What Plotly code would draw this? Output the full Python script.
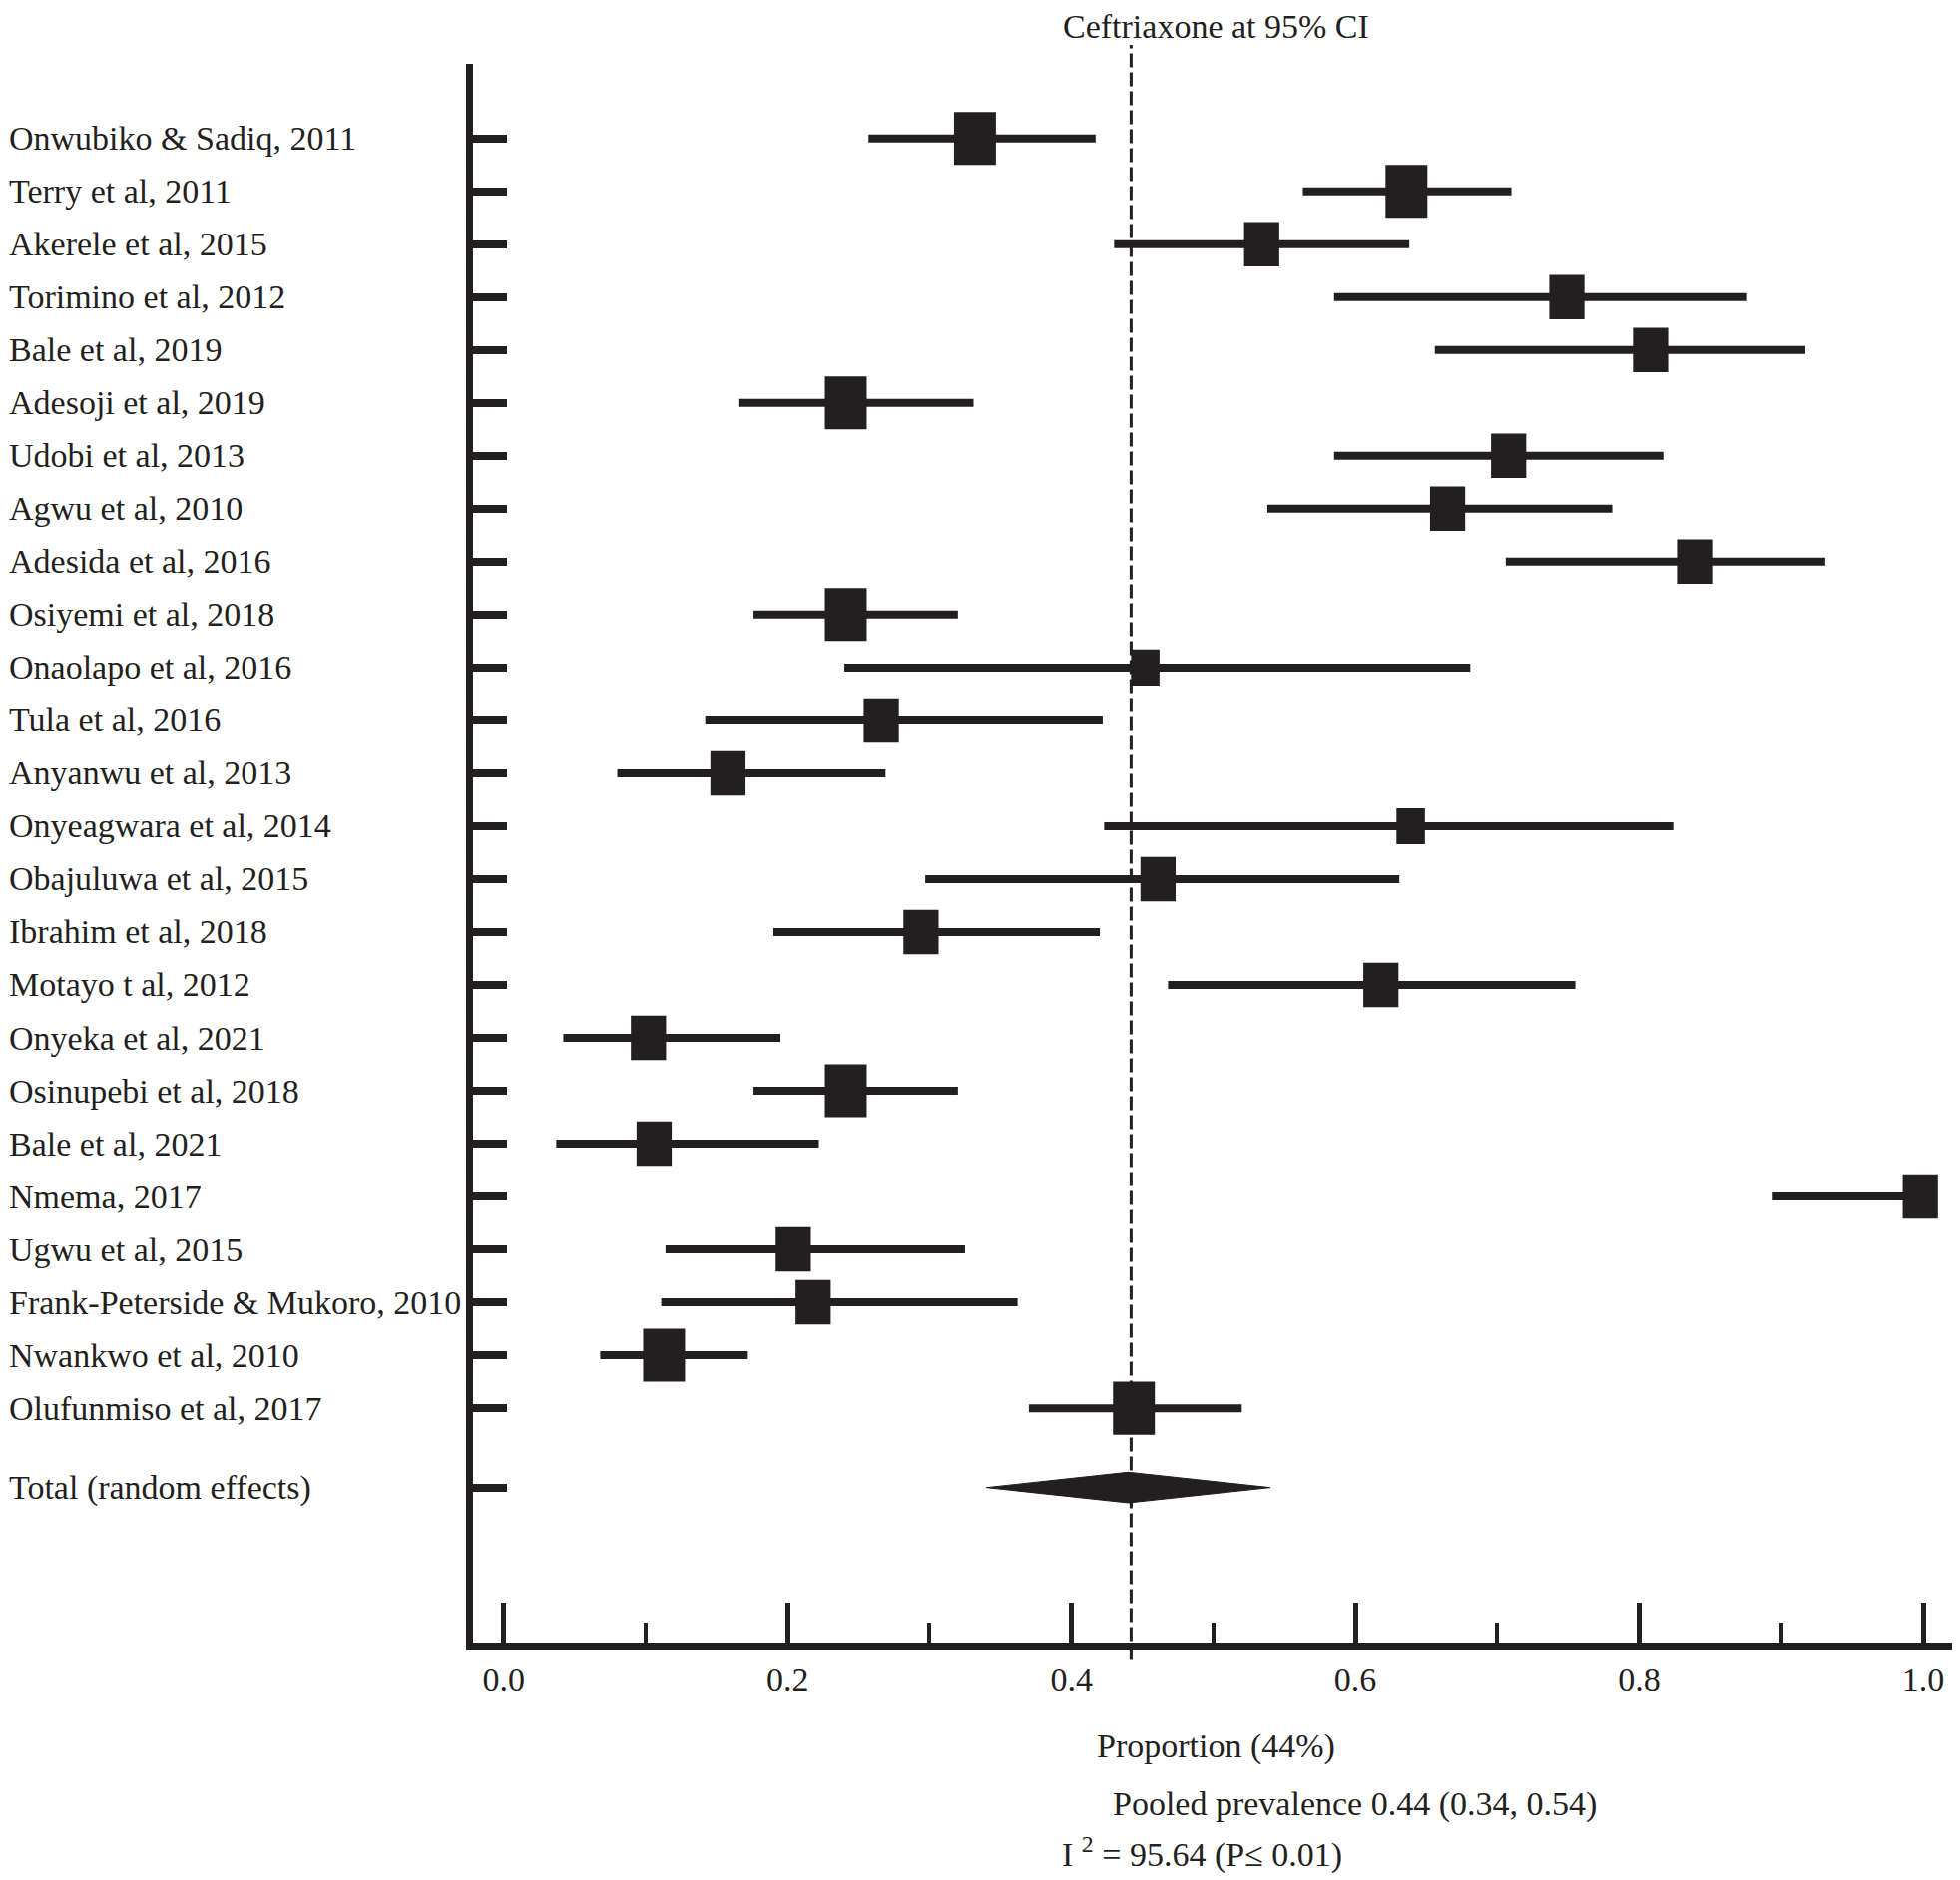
import plotly.graph_objects as go

# ---------------- data ----------------
studies = [
    "Onwubiko & Sadiq, 2011", "Terry et al, 2011", "Akerele et al, 2015",
    "Torimino et al, 2012", "Bale et al, 2019", "Adesoji et al, 2019",
    "Udobi et al, 2013", "Agwu et al, 2010", "Adesida et al, 2016",
    "Osiyemi et al, 2018", "Onaolapo et al, 2016", "Tula et al, 2016",
    "Anyanwu et al, 2013", "Onyeagwara et al, 2014", "Obajuluwa et al, 2015",
    "Ibrahim et al, 2018", "Motayo t al, 2012", "Onyeka et al, 2021",
    "Osinupebi et al, 2018", "Bale et al, 2021", "Nmema, 2017",
    "Ugwu et al, 2015", "Frank-Peterside & Mukoro, 2010", "Nwankwo et al, 2010",
    "Olufunmiso et al, 2017",
]
estimate = [0.332, 0.636, 0.534, 0.749, 0.808, 0.241, 0.708, 0.665, 0.839,
            0.241, 0.452, 0.266, 0.158, 0.639, 0.461, 0.294, 0.618, 0.102,
            0.241, 0.106, 0.998, 0.204, 0.218, 0.113, 0.444]
ci_low = [0.257, 0.563, 0.430, 0.585, 0.656, 0.166, 0.585, 0.538, 0.706,
          0.176, 0.240, 0.142, 0.080, 0.423, 0.297, 0.190, 0.468, 0.042,
          0.176, 0.037, 0.894, 0.114, 0.111, 0.068, 0.370]
ci_high = [0.417, 0.710, 0.638, 0.876, 0.917, 0.331, 0.817, 0.781, 0.931,
           0.320, 0.681, 0.422, 0.269, 0.824, 0.631, 0.420, 0.755, 0.195,
           0.320, 0.222, 1.000, 0.325, 0.362, 0.172, 0.520]
rel_weight = [1.0, 1.0, 0.84, 0.84, 0.84, 1.0, 0.84, 0.84, 0.84,
              1.0, 0.68, 0.84, 0.84, 0.68, 0.84, 0.84, 0.84, 0.84,
              1.0, 0.84, 0.84, 0.84, 0.84, 1.0, 1.0]
pooled_label = "Total (random effects)"
pooled_est = 0.44
pooled_low = 0.34
pooled_high = 0.54
x_ticks = [0.0, 0.2, 0.4, 0.6, 0.8, 1.0]
x_minor = [0.1, 0.3, 0.5, 0.7, 0.9]

title_text = "Ceftriaxone at 95% CI"
axis_title = "Proportion (44%)"
pooled_text = "Pooled prevalence 0.44 (0.34, 0.54)"
het_text = "I <sup>2</sup> = 95.64 (P≤ 0.01)"

# ---------------- style ----------------
INK = "#231F20"
FONT = "Liberation Serif, Times New Roman, serif"
FS = 34
BOX_W = 0.0295   # box width (x units) at relative weight 1
BOX_H = 1.0      # box height (row units) at relative weight 1
DIAMOND_HALF = 0.29

n = len(studies)
rows = list(range(n))
pooled_row = n + 0.5

fig = go.Figure()

# confidence interval lines
xs, ys = [], []
for r, lo, hi in zip(rows, ci_low, ci_high):
    xs += [lo, hi, None]
    ys += [r, r, None]
fig.add_trace(go.Scatter(x=xs, y=ys, mode="lines",
                         line=dict(color=INK, width=8),
                         hoverinfo="skip", showlegend=False))

# weighted boxes
widths = [w * BOX_W for w in rel_weight]
fig.add_trace(go.Bar(orientation="h", y=rows, x=widths,
                     base=[e - w / 2 for e, w in zip(estimate, widths)],
                     width=[w * BOX_H for w in rel_weight],
                     marker=dict(color=INK, line=dict(width=0)),
                     showlegend=False, hovertext=studies))

# pooled diamond
fig.add_trace(go.Scatter(
    x=[pooled_low, pooled_est, pooled_high, pooled_est, pooled_low],
    y=[pooled_row, pooled_row - DIAMOND_HALF, pooled_row,
       pooled_row + DIAMOND_HALF, pooled_row],
    mode="lines", fill="toself", fillcolor=INK,
    line=dict(color=INK, width=1), showlegend=False))

# pooled reference line
fig.add_shape(type="line", xref="x", yref="paper",
              x0=pooled_est + 0.002, x1=pooled_est + 0.002, y0=-0.011, y1=1.012,
              line=dict(color=INK, width=3, dash="14px,5px"))

# layout geometry (page body has an 8px margin)
OFF = 8
W, H = 1964 - OFF, 1884 - OFF
ML, MR, MT, MB = 474 - OFF, 0, 64 - OFF, 238
PW = W - ML - MR
PH = H - MT - MB

def px_x(X):
    return (X - OFF - ML) / PW

def px_y(Y):
    return (H - MB - (Y - OFF)) / PH

annotations = []
for r, name in zip(rows + [pooled_row], studies + [pooled_label]):
    annotations.append(dict(text=name, xref="paper", yref="y",
                            x=-ML / PW, y=r, xanchor="left", yanchor="middle",
                            showarrow=False, borderpad=0,
                            font=dict(family=FONT, size=FS, color=INK)))
annotations.append(dict(text=title_text, xref="paper", yref="paper",
                        x=px_x(1218), y=px_y(26), xanchor="center",
                        yanchor="middle", showarrow=False, borderpad=0,
                        font=dict(family=FONT, size=FS, color=INK)))
annotations.append(dict(text=axis_title, xref="paper", yref="paper",
                        x=px_x(1097), y=px_y(1750), xanchor="left",
                        yanchor="middle", showarrow=False,
                        font=dict(family=FONT, size=FS, color=INK)))
annotations.append(dict(text=pooled_text, xref="paper", yref="paper",
                        x=px_x(1113), y=px_y(1808), xanchor="left",
                        yanchor="middle", showarrow=False,
                        font=dict(family=FONT, size=FS, color=INK)))
annotations.append(dict(text=het_text, xref="paper", yref="paper",
                        x=px_x(1062), y=px_y(1856), xanchor="left",
                        yanchor="middle", showarrow=False,
                        font=dict(family=FONT, size=FS, color=INK)))

fig.update_layout(
    width=W, height=H,
    margin=dict(l=ML, r=MR, t=MT, b=MB, pad=0),
    paper_bgcolor="white", plot_bgcolor="white",
    showlegend=False,
    annotations=annotations,
    xaxis=dict(range=[-0.0216, 1.026], showline=True, linewidth=8,
               linecolor=INK, ticks="inside", ticklen=40, tickwidth=5,
               tickcolor=INK, tickmode="array", tickvals=x_ticks,
               ticktext=[f"{v:.1f}" for v in x_ticks],
               tickfont=dict(family=FONT, size=FS, color=INK),
               showgrid=False, zeroline=False,
               minor=dict(tickmode="array", tickvals=x_minor, ticks="inside",
                          ticklen=20, tickwidth=4, tickcolor=INK,
                          showgrid=False)),
    yaxis=dict(range=[28.43, -1.409], showline=True, linewidth=7,
               linecolor=INK, ticks="inside", ticklen=34, tickwidth=8,
               tickcolor=INK, tickmode="array",
               tickvals=rows + [pooled_row], showticklabels=False,
               showgrid=False, zeroline=False),
)

fig.write_html("out.html")
